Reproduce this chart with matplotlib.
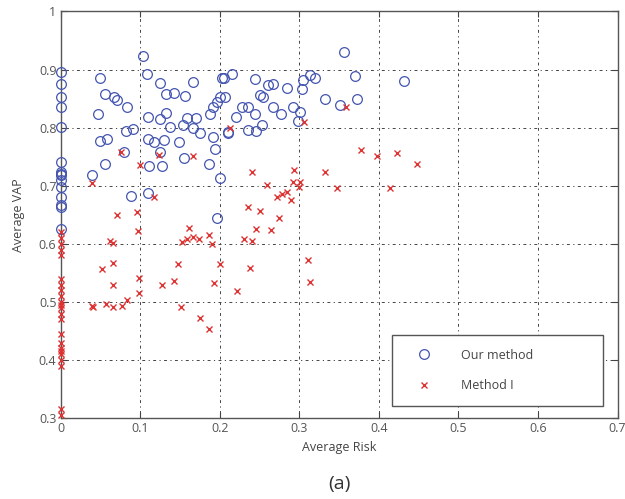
import matplotlib
matplotlib.use("Agg")
import matplotlib.pyplot as plt

plt.rcParams['font.family'] = ['Open Sans', 'DejaVu Sans']

# "Our method" (blue circles)
ours_risk = [0, 0, 0, 0, 0, 0, 0, 0, 0, 0, 0, 0, 0, 0, 0,
             0.104, 0.109, 0.050, 0.125, 0.166, 0.056, 0.067, 0.071, 0.083, 0.133,
             0.143, 0.156, 0.047, 0.110, 0.125, 0.133, 0.138, 0.154, 0.159, 0.170,
             0.166, 0.175, 0.082, 0.091, 0.049, 0.058, 0.110, 0.117, 0.130, 0.149,
             0.125, 0.080, 0.056, 0.111, 0.127, 0.155, 0.186, 0.040, 0.089, 0.110,
             0.200, 0.194, 0.192, 0.211, 0.188, 0.192, 0.196, 0.200, 0.207, 0.203,
             0.215, 0.221, 0.196,
             0.356, 0.205, 0.244, 0.261, 0.267, 0.285, 0.303, 0.305, 0.313, 0.320,
             0.370, 0.431, 0.250, 0.254, 0.332, 0.351, 0.372, 0.228, 0.236, 0.244,
             0.267, 0.277, 0.292, 0.301, 0.299, 0.236, 0.246, 0.253, 0.210]
ours_vap = [0.896, 0.876, 0.853, 0.835, 0.801, 0.741, 0.724, 0.721, 0.718, 0.710,
            0.698, 0.681, 0.664, 0.625, 0.667,
            0.923, 0.892, 0.886, 0.877, 0.878, 0.858, 0.853, 0.847, 0.836, 0.858,
            0.859, 0.855, 0.823, 0.818, 0.815, 0.825, 0.801, 0.805, 0.816, 0.816,
            0.800, 0.791, 0.794, 0.797, 0.777, 0.781, 0.781, 0.776, 0.778, 0.776,
            0.758, 0.758, 0.737, 0.734, 0.734, 0.747, 0.737, 0.718, 0.682, 0.687,
            0.713, 0.764, 0.784, 0.790, 0.824, 0.836, 0.844, 0.853, 0.853, 0.886,
            0.893, 0.819, 0.644,
            0.930, 0.886, 0.883, 0.873, 0.875, 0.869, 0.867, 0.882, 0.890, 0.886,
            0.889, 0.881, 0.856, 0.852, 0.849, 0.839, 0.850, 0.835, 0.835, 0.824,
            0.835, 0.824, 0.835, 0.827, 0.812, 0.796, 0.794, 0.804, 0.793]

# "Method I" (red crosses)
m1_risk = [0, 0, 0, 0, 0, 0, 0, 0, 0, 0, 0, 0, 0, 0, 0, 0, 0, 0, 0, 0, 0, 0, 0,
           0.359, 0.306, 0.213, 0.378, 0.398, 0.423, 0.448, 0.240, 0.293, 0.332,
           0.259, 0.292, 0.301, 0.300, 0.348, 0.414, 0.284, 0.278, 0.272, 0.290,
           0.236, 0.250, 0.275, 0.246, 0.264, 0.231, 0.240, 0.200, 0.311, 0.313,
           0.238, 0.222,
           0.071, 0.096, 0.097, 0.062, 0.066, 0.052, 0.066, 0.066, 0.099, 0.099,
           0.039, 0.041, 0.057, 0.066, 0.077, 0.084, 0.127, 0.143, 0.148, 0.151,
           0.152, 0.161, 0.159, 0.166, 0.174, 0.186, 0.190, 0.193, 0.175, 0.186,
           0.076, 0.100, 0.124, 0.166, 0.039, 0.117]
m1_vap = [0.620, 0.610, 0.600, 0.590, 0.580, 0.540, 0.530, 0.520, 0.510, 0.500,
          0.495, 0.490, 0.480, 0.470, 0.445, 0.430, 0.420, 0.415, 0.410, 0.400,
          0.390, 0.315, 0.305,
          0.835, 0.810, 0.800, 0.762, 0.751, 0.757, 0.737, 0.724, 0.727, 0.723,
          0.702, 0.706, 0.706, 0.698, 0.697, 0.697, 0.690, 0.685, 0.680, 0.675,
          0.663, 0.657, 0.644, 0.626, 0.624, 0.609, 0.605, 0.566, 0.573, 0.534,
          0.558, 0.519,
          0.649, 0.655, 0.622, 0.605, 0.601, 0.556, 0.567, 0.529, 0.542, 0.516,
          0.493, 0.491, 0.496, 0.491, 0.493, 0.503, 0.529, 0.536, 0.566, 0.491,
          0.603, 0.628, 0.608, 0.611, 0.608, 0.615, 0.599, 0.532, 0.473, 0.454,
          0.758, 0.735, 0.753, 0.751, 0.705, 0.680]

x_ticks = [0, 0.1, 0.2, 0.3, 0.4, 0.5, 0.6, 0.7]
x_labels = ['0', '0.1', '0.2', '0.3', '0.4', '0.5', '0.6', '0.7']
y_ticks = [0.3, 0.4, 0.5, 0.6, 0.7, 0.8, 0.9, 1.0]
y_labels = ['0.3', '0.4', '0.5', '0.6', '0.7', '0.8', '0.9', '1']

fig = plt.figure(figsize=(6.25, 4.99), dpi=100)
ax = fig.add_axes([0.097, 0.162, 0.891, 0.815])

ax.plot(ours_risk, ours_vap, linestyle='none', marker='o', markersize=7,
        markerfacecolor='none', markeredgecolor='#4455b0', markeredgewidth=0.9,
        label='Our method', clip_on=False, zorder=3)
ax.plot(m1_risk, m1_vap, linestyle='none', marker='x', markersize=4.5,
        color='#dd3333', markeredgewidth=1.0, label='Method I', clip_on=False, zorder=3)

ax.set_xlim(0, 0.7)
ax.set_ylim(0.3, 1.0)
ax.set_xticks(x_ticks)
ax.set_xticklabels(x_labels)
ax.set_yticks(y_ticks)
ax.set_yticklabels(y_labels)
ax.tick_params(direction='in', length=4, width=0.8, colors='#444444',
               labelsize=9, top=True, right=True, pad=3)
ax.tick_params(axis='both', labelcolor='#555555')
for s in ax.spines.values():
    s.set_color('#555555')
    s.set_linewidth(1.0)

ax.grid(True, color='#444444', linestyle=(0, (1.2, 3.5, 3, 3.5)), linewidth=0.7)
ax.set_axisbelow(True)

ax.set_xlabel('Average Risk', fontsize=9, color='#444444', labelpad=4)
ax.set_ylabel('Average VAP', fontsize=9, color='#444444', labelpad=10)

leg = ax.legend(loc='lower left', bbox_to_anchor=(0.595, 0.03, 0.379, 0.17),
                mode='expand', fontsize=9,
                frameon=True, fancybox=False, edgecolor='#555555', framealpha=1,
                borderpad=1.1, labelspacing=1.4, handletextpad=1.4,
                handlelength=3.0, borderaxespad=0)
leg.get_frame().set_linewidth(1.0)
for t in leg.get_texts():
    t.set_color('#444444')

fig.text(0.5 * (0.097 + 0.988), 1 - 484 / 499, '(a)', fontsize=14,
         ha='center', va='center', color='#333333')

fig.savefig('out.png', dpi=100)
